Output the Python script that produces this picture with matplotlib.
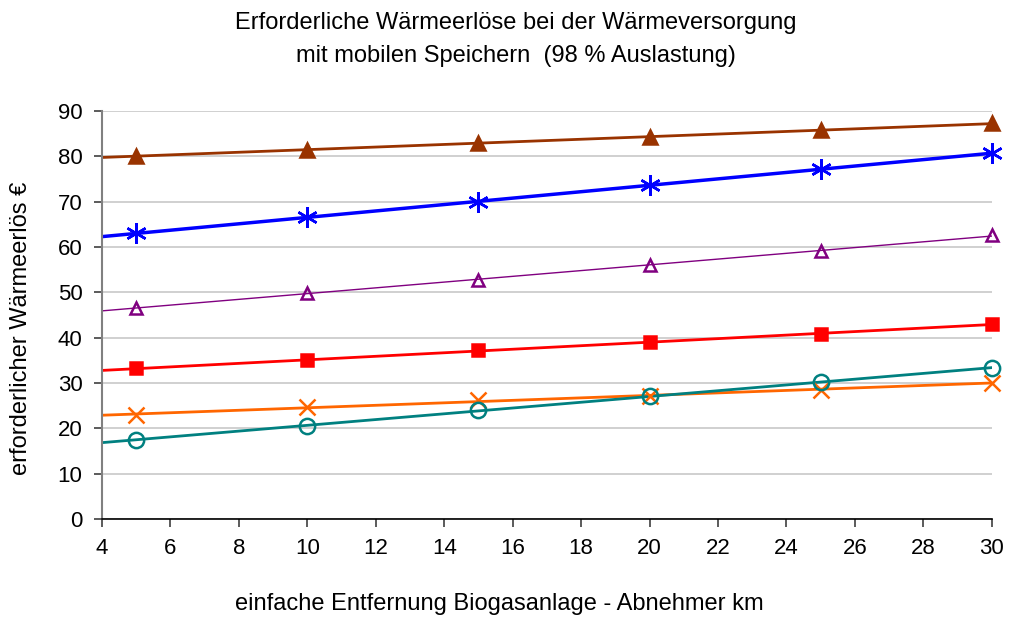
"""Erforderliche Wärmeerlöse bei der Wärmeversorgung mit mobilen Speichern."""
import numpy as np
import matplotlib
matplotlib.use("Agg")
import matplotlib.pyplot as plt

plt.rcParams['font.family'] = ['Liberation Sans', 'DejaVu Sans']

# distance km
entfernung = [5, 10, 15, 20, 25, 30]

# required heat revenue per series
werte_braun = [80.1, 81.5, 82.9, 84.2, 85.8, 87.3]
werte_blau = [63.0, 66.6, 70.0, 73.6, 77.2, 80.7]
werte_lila = [46.6, 49.8, 52.8, 56.0, 59.1, 62.6]
werte_rot = [33.2, 35.0, 37.2, 39.0, 40.8, 43.0]
werte_orange = [22.9, 24.7, 26.2, 27.2, 28.5, 30.0]
werte_tuerkis = [17.4, 20.6, 24.0, 27.1, 30.2, 33.3]

x_ticks = [4, 6, 8, 10, 12, 14, 16, 18, 20, 22, 24, 26, 28, 30]
y_ticks = [0, 10, 20, 30, 40, 50, 60, 70, 80, 90]

# (values, colour, marker, size, filled, trendline width)
serien = [
    (werte_braun, "#993300", "^", 10, True, 2.0),
    (werte_blau, "#0000FF", (6, 2, 0), 15, True, 2.5),
    (werte_lila, "#800080", "^", 9, False, 1.0),
    (werte_rot, "#FF0000", "s", 8, True, 2.0),
    (werte_orange, "#FF6600", "x", 12, True, 2.0),
    (werte_tuerkis, "#008080", "o", 11, False, 2.0),
]

fig = plt.figure(figsize=(10.09, 6.19), dpi=100)
ax = fig.add_axes([0.101, 0.1616, 0.882, 0.659])

x_line = np.array([4, 30])
for werte, farbe, marker, ms, filled, lw in serien:
    # linear trendline over the data points
    m, b = np.polyfit(entfernung, werte, 1)
    ax.plot(x_line, m * x_line + b, color=farbe, linewidth=lw, zorder=2)
    ax.plot(entfernung, werte, linestyle="none", marker=marker, markersize=ms,
            color=farbe, markerfacecolor=farbe if filled else "none",
            markeredgewidth=1.8, clip_on=False, zorder=3)

ax.set_xlim(4, 30)
ax.set_ylim(0, 90)
ax.set_xticks(x_ticks)
ax.set_yticks(y_ticks)
ax.tick_params(axis="both", labelsize=16, direction="out", length=6, width=1.2,
               color="#404040", pad=8)
ax.grid(axis="y", color="#C8C8C8", linewidth=1.2)
ax.set_axisbelow(True)
for side in ["top", "right"]:
    ax.spines[side].set_visible(False)
ax.spines["left"].set_color("#808080")
ax.spines["left"].set_linewidth(1.5)
ax.spines["bottom"].set_color("#000000")
ax.spines["bottom"].set_linewidth(1.2)

ax.set_xlabel("einfache Entfernung Biogasanlage - Abnehmer km", fontsize=17)
ax.xaxis.set_label_coords(0.447, -0.182)
ax.set_ylabel("erforderlicher Wärmeerlös €", fontsize=17)
ax.yaxis.set_label_coords(-0.079, 0.468)
fig.text(0.511, 0.963, "Erforderliche Wärmeerlöse bei der Wärmeversorgung",
         ha="center", va="center", fontsize=17)
fig.text(0.511, 0.909, "mit mobilen Speichern  (98 % Auslastung)",
         ha="center", va="center", fontsize=17)

fig.savefig("out.png", dpi=100)
plt.close(fig)
